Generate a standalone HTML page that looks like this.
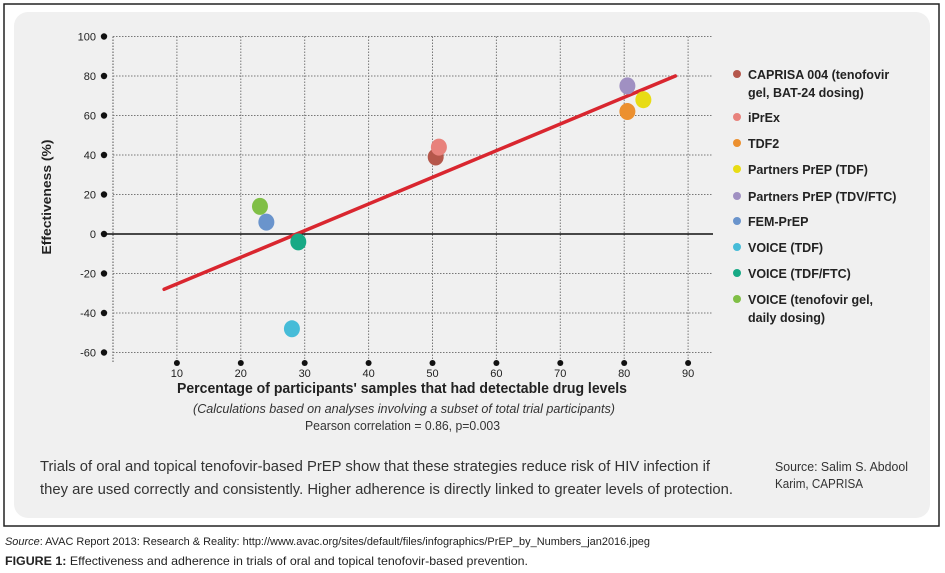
<!DOCTYPE html>
<html><head><meta charset="utf-8">
<style>
html,body{margin:0;padding:0;background:#fff;}
svg{display:block;font-family:"Liberation Sans",sans-serif;}
</style></head>
<body>
<svg id="chart" width="945" height="573" viewBox="0 0 945 573" xmlns="http://www.w3.org/2000/svg">
  <rect x="4" y="4" width="935" height="522" fill="#fff" stroke="#222" stroke-width="1.5"/>
  <rect x="14" y="12" width="916" height="506" rx="14" fill="#f0f0f0"/>
  <g id="grid"></g>
  <g id="marks"></g>
  <text transform="translate(51,197) rotate(-90)" text-anchor="middle" font-size="13" font-weight="bold" fill="#222" textLength="115" lengthAdjust="spacingAndGlyphs">Effectiveness (%)</text>
  <text x="177" y="393" font-size="15" font-weight="bold" fill="#222" textLength="450" lengthAdjust="spacingAndGlyphs">Percentage of participants' samples that had detectable drug levels</text>
  <text x="193" y="413" font-size="13" font-style="italic" fill="#333" textLength="422" lengthAdjust="spacingAndGlyphs">(Calculations based on analyses involving a subset of total trial participants)</text>
  <text x="305" y="430" font-size="13" fill="#333" textLength="195" lengthAdjust="spacingAndGlyphs">Pearson correlation = 0.86, p=0.003</text>
  <text x="40" y="471" font-size="15" fill="#333" textLength="670" lengthAdjust="spacingAndGlyphs">Trials of oral and topical tenofovir-based PrEP show that these strategies reduce risk of HIV infection if</text>
  <text x="40" y="494" font-size="15" fill="#333" textLength="693" lengthAdjust="spacingAndGlyphs">they are used correctly and consistently. Higher adherence is directly linked to greater levels of protection.</text>
  <text x="775" y="471" font-size="13" fill="#333" textLength="133" lengthAdjust="spacingAndGlyphs">Source: Salim S. Abdool</text>
  <text x="775" y="488" font-size="13" fill="#333" textLength="88" lengthAdjust="spacingAndGlyphs">Karim, CAPRISA</text>
  <text x="5" y="545" font-size="11" fill="#222" textLength="645" lengthAdjust="spacingAndGlyphs"><tspan font-style="italic">Source</tspan>: AVAC Report 2013: Research &amp; Reality: http://www.avac.org/sites/default/files/infographics/PrEP_by_Numbers_jan2016.jpeg</text>
  <text x="5" y="565" font-size="12" fill="#222" textLength="523" lengthAdjust="spacingAndGlyphs"><tspan font-weight="bold">FIGURE 1:</tspan> Effectiveness and adherence in trials of oral and topical tenofovir-based prevention.</text>
  <g id="legend"></g>
</svg>
<script>
const names = ["CAPRISA 004 (tenofovir|gel, BAT-24 dosing)","iPrEx","TDF2","Partners PrEP (TDF)","Partners PrEP (TDV/FTC)","FEM-PrEP","VOICE (TDF)","VOICE (TDF/FTC)","VOICE (tenofovir gel,|daily dosing)"];
const adherence = [50.5, 51, 80.5, 83, 80.5, 24, 28, 29, 23];
const effectiveness = [39, 44, 62, 68, 75, 6, -48, -4, 14];
const colors = ["#b5574b","#e8827c","#ec902f","#e8dc14","#a090c2","#6a94cc","#46bcd8","#17a985","#80bf46"];
const xTicks = [10,20,30,40,50,60,70,80,90];
const yTicks = [100,80,60,40,20,0,-20,-40,-60];
const fitX = [8, 88];
const fitY = [-28, 80];

const NS = "http://www.w3.org/2000/svg";
function xS(v){ return 113 + v*6.39; }
function yS(v){ return 234 - v*1.975; }
function mk(tag, attrs, parent){ const e=document.createElementNS(NS,tag); for(const k in attrs) e.setAttribute(k,attrs[k]); parent.appendChild(e); return e; }

const grid = document.getElementById('grid');
const marks = document.getElementById('marks');
const legend = document.getElementById('legend');

// left axis dotted
let la = mk('line',{x1:xS(0),x2:xS(0),y1:yS(100),y2:yS(-65),stroke:'#555','stroke-width':1,'stroke-dasharray':'1.5,1.5'},grid);



yTicks.forEach(t=>{
  const y=yS(t);
  if(t!==0){
    const g=mk('line',{x1:xS(0),x2:713,y1:y,y2:y,stroke:'#777','stroke-width':1,'stroke-dasharray':'1.5,1.5'},grid);
    
    
  }
  const d=mk('circle',{cx:104,cy:y,r:3.2,fill:'#111'},grid);
  
  
  const tx=mk('text',{x:96,y:y+4,'text-anchor':'end','font-size':11,fill:'#222'},grid);
  tx.textContent=t;
  
  
});
xTicks.forEach(t=>{
  const x=xS(t);
  const g=mk('line',{x1:x,x2:x,y1:yS(100),y2:yS(-65),stroke:'#777','stroke-width':1,'stroke-dasharray':'1.5,1.5'},grid);
  
  
  const d=mk('circle',{cx:x,cy:363,r:3,fill:'#111'},grid);
  
  
  const tx=mk('text',{x:x,y:377,'text-anchor':'middle','font-size':11,fill:'#222'},grid);
  tx.textContent=t;
  
  
});
const zl=mk('line',{x1:104,x2:713,y1:yS(0),y2:yS(0),stroke:'#111','stroke-width':1.5},grid);



const fit=mk('line',{x1:xS(fitX[0]),y1:yS(fitY[0]),x2:xS(fitX[1]),y2:yS(fitY[1]),stroke:'#d9262f','stroke-width':3.5,'stroke-linecap':'round'},marks);



const order=[0,1,2,3,4,5,6,7,8];
order.forEach(i=>{
  const c=mk('ellipse',{cx:xS(adherence[i]),cy:yS(effectiveness[i]),rx:8,ry:8.5,fill:colors[i]},marks);
  
  
});

const legY=[75,118,144,170,197,222,248,274,300];
names.forEach((n,i)=>{
  const g=mk('g',{},legend);
  
  
  mk('circle',{cx:737,cy:legY[i]-1,r:4,fill:colors[i]},g);
  n.split('|').forEach((line,j)=>{
    const t=mk('text',{x:748,y:legY[i]+4+j*18,'font-size':12.5,'font-weight':'bold',fill:'#222'},g);
    t.textContent=line;
  });
});
</script>
</body></html>
